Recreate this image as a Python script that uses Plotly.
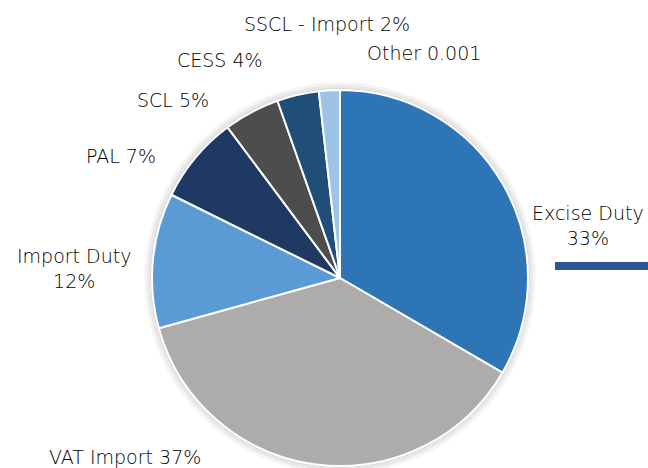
import plotly.graph_objects as go

# revenue shares
categories = ["Excise Duty", "VAT Import", "Import Duty", "PAL", "SCL", "CESS", "SSCL - Import", "Other"]
shares = [33.4, 37.3, 11.6, 7.5, 4.8, 3.6, 1.8, 0.001]
label_text = ["Excise Duty<br>33%", "VAT Import 37%", "Import Duty<br>12%", "PAL 7%",
              "SCL 5%", "CESS 4%", "SSCL - Import 2%", "Other 0.001"]
colors = ["#2E75B6", "#AEABAB", "#5B9BD5", "#203864", "#4D4D4D", "#1F4E79", "#9DC3E6", "#BDD7EE"]

W, H = 648, 468
cx, cy, r = 340, 278, 188

fig = go.Figure()
fig.add_trace(go.Pie(
    labels=categories,
    values=shares,
    sort=False,
    direction="clockwise",
    rotation=0,
    textinfo="none",
    hoverinfo="label+percent",
    marker=dict(colors=colors, line=dict(color="white", width=2)),
    domain=dict(x=[(cx - r) / W, (cx + r) / W], y=[(H - cy - r) / H, (H - cy + r) / H]),
    showlegend=False,
))

# label centres (pixels from top-left)
label_pos = [(588, 225), (125, 457), (74, 268), (121, 156),
             (173, 100), (220, 60), (327, 24), (424, 53)]
for txt, (x, y) in zip(label_text, label_pos):
    fig.add_annotation(x=x / W, y=1 - y / H, xref="paper", yref="paper",
                       xanchor="center", yanchor="middle",
                       text=txt, showarrow=False, align="center",
                       font=dict(size=19, color="#000000", weight=300))

# soft shadow ring under the pie
for k, a in [(8, 0.04), (5, 0.05), (2, 0.06)]:
    fig.add_shape(type="circle", xref="paper", yref="paper", layer="below",
                  x0=(cx - r - k / 2) / W, x1=(cx + r + k / 2) / W,
                  y0=1 - (cy + r + k / 2) / H, y1=1 - (cy - r - k / 2) / H,
                  line=dict(color="rgba(0,0,0,%s)" % a, width=k))

# clipped legend swatch at the right edge
fig.add_shape(type="rect", xref="paper", yref="paper",
              x0=555 / W, x1=1.0, y0=1 - 270 / H, y1=1 - 262 / H,
              fillcolor="#2F5597", line=dict(width=0))

fig.update_layout(
    width=W, height=H,
    margin=dict(l=0, r=0, t=0, b=0),
    paper_bgcolor="white",
    font=dict(family="DejaVu Sans, Open Sans, sans-serif"),
)
fig.write_html("out.html", config={"displayModeBar": False},
               post_script="document.body.style.margin='0';")
